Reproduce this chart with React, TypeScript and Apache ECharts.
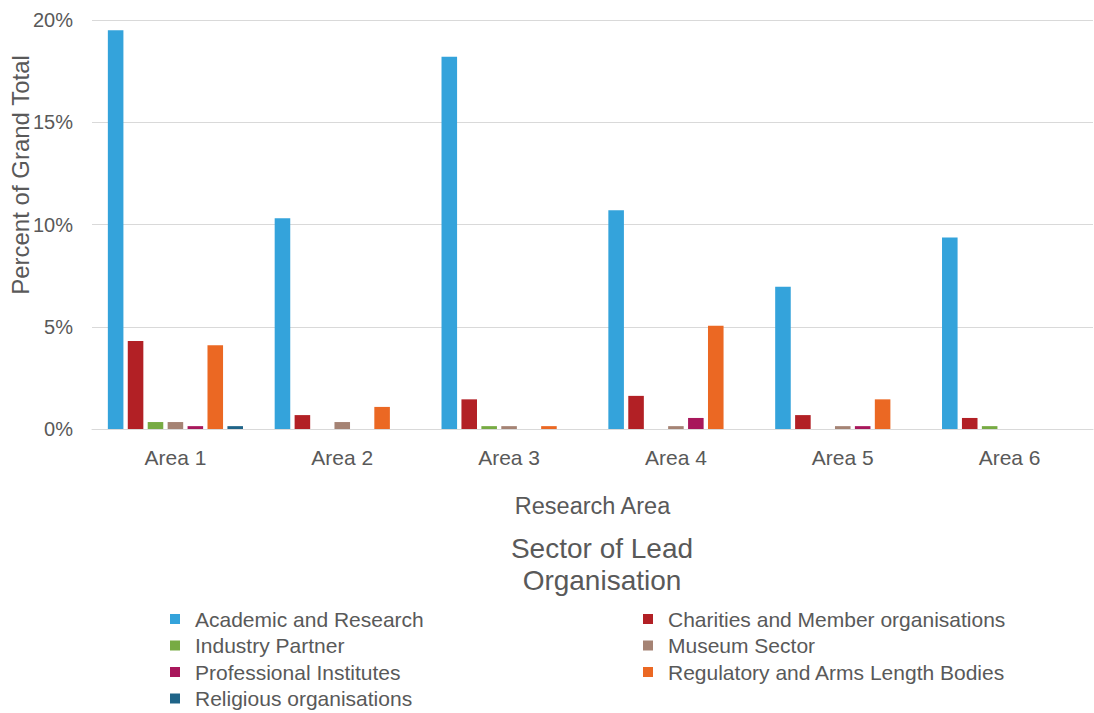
import React, { useEffect, useRef } from "react";
import * as echarts from "echarts";

const categories = ["Area 1", "Area 2", "Area 3", "Area 4", "Area 5", "Area 6"];
const seriesNames = [
  "Academic and Research",
  "Charities and Member organisations",
  "Industry Partner",
  "Museum Sector",
  "Professional Institutes",
  "Regulatory and Arms Length Bodies",
  "Religious organisations",
];
const academic = [19.5, 10.3, 18.2, 10.7, 6.95, 9.37];
const charities = [4.3, 0.68, 1.45, 1.62, 0.68, 0.54];
const industry = [0.34, 0, 0.14, 0, 0, 0.14];
const museum = [0.34, 0.34, 0.14, 0.14, 0.14, 0];
const professional = [0.14, 0, 0, 0.54, 0.14, 0];
const regulatory = [4.1, 1.08, 0.14, 5.05, 1.45, 0];
const religious = [0.14, 0, 0, 0, 0, 0];
const colors = ["#34A3DB", "#B22025", "#77AB43", "#A58374", "#A8175B", "#EB6823", "#1F6488"];
const yTicks = { min: 0, max: 20, interval: 5 };

const FONT = "'Liberation Sans', Arial, sans-serif";
const GREY = "#595959";

export default function App() {
  const ref = useRef<HTMLDivElement>(null);
  useEffect(() => {
    if (!ref.current) return;
    const chart = echarts.init(ref.current, undefined, { renderer: "svg" });
    const allData = [academic, charities, industry, museum, professional, regulatory, religious];
    const legendStyle = {
      orient: "vertical" as const,
      top: 603.5,
      height: 150,
      itemWidth: 10,
      itemHeight: 10,
      itemGap: 5.5,
      icon: "rect",
      textStyle: { fontFamily: FONT, fontSize: 21, color: GREY, lineHeight: 21, padding: [0, 0, 0, 10] },
    };
    chart.setOption({
      animation: false,
      textStyle: { fontFamily: FONT },
      color: colors,
      title: {
        text: "Sector of Lead\nOrganisation",
        left: 597,
        top: 527,
        textAlign: "center",
        textStyle: { fontFamily: FONT, fontSize: 28, fontWeight: "normal", color: GREY, lineHeight: 32 },
      },
      legend: [
        { ...legendStyle, left: 165, data: [seriesNames[0], seriesNames[2], seriesNames[4], seriesNames[6]] },
        { ...legendStyle, left: 638, data: [seriesNames[1], seriesNames[3], seriesNames[5]] },
      ],
      grid: { left: 92, right: 1, top: 20, bottom: 284, containLabel: false },
      xAxis: {
        type: "category",
        data: categories,
        axisTick: { show: false },
        axisLine: { lineStyle: { color: "#d9d9d9", width: 1 } },
        axisLabel: { color: GREY, fontSize: 21, margin: 17.5, fontFamily: FONT },
        name: "Research Area",
        nameLocation: "middle",
        nameGap: 65,
        nameTextStyle: { color: GREY, fontSize: 23.5, fontFamily: FONT },
      },
      yAxis: {
        type: "value",
        min: yTicks.min,
        max: yTicks.max,
        interval: yTicks.interval,
        axisLine: { show: false },
        axisTick: { show: false },
        splitLine: { lineStyle: { color: "#d9d9d9", width: 1 } },
        axisLabel: { color: GREY, fontSize: 20, margin: 19, formatter: "{value}%", fontFamily: FONT },
      },
      graphic: [
        {
          type: "text",
          x: 20,
          y: 175,
          rotation: Math.PI / 2,
          style: {
            text: "Percent of Grand Total",
            fill: GREY,
            fontSize: 24,
            fontFamily: FONT,
            align: "center",
            verticalAlign: "middle",
          },
        },
      ],
      series: seriesNames.map((name, i) => ({
        name,
        type: "bar",
        data: allData[i],
        barGap: "28%",
        barCategoryGap: "19%",
        itemStyle: { color: colors[i] },
      })),
    });
    return () => chart.dispose();
  }, []);
  return <div ref={ref} style={{ width: 1094, height: 713, position: "absolute", left: 0, top: 0 }} />;
}
